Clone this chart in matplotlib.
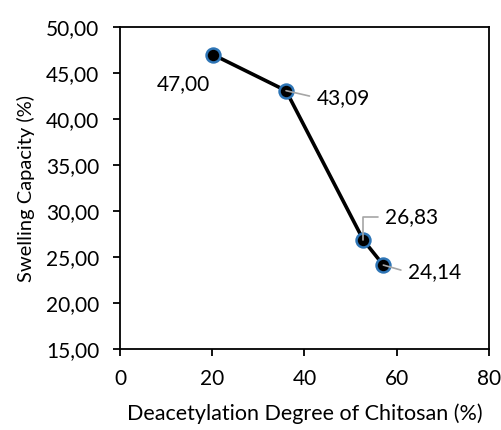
import matplotlib
matplotlib.use("Agg")
import matplotlib.pyplot as plt
from matplotlib.ticker import FuncFormatter

plt.rcParams['font.family'] = ['Lato', 'DejaVu Sans']

deacetylation = [20.2, 36.0, 52.8, 57.1]
swelling = [47.00, 43.09, 26.83, 24.14]
labels = ["47,00", "43,09", "26,83", "24,14"]
x_ticks = [0, 20, 40, 60, 80]
y_ticks = [15, 20, 25, 30, 35, 40, 45, 50]

fig = plt.figure(figsize=(5.02, 4.30), dpi=100)
ax = fig.add_axes([0.239, 0.188, 0.735, 0.749])

ax.plot(deacetylation, swelling, color='black', lw=2.6, marker='o', ms=10,
        markerfacecolor='black', markeredgecolor='#2E75B6', markeredgewidth=1.8, zorder=3)

ax.set_xlim(0, 80)
ax.set_ylim(15, 50)
ax.set_xticks(x_ticks)
ax.set_yticks(y_ticks)
ax.yaxis.set_major_formatter(FuncFormatter(lambda v, p: f"{v:.2f}".replace('.', ',')))
ax.tick_params(direction='out', length=5, width=1.3, labelsize=15, pad=10)
ax.tick_params(axis='x', pad=9)
for s in ax.spines.values():
    s.set_linewidth(1.3)

ax.set_xlabel("Deacetylation Degree of Chitosan (%)", fontsize=15.5, labelpad=11)
ax.set_ylabel("Swelling Capacity (%)", fontsize=14.5, labelpad=8)

offsets = [(-21.6, -20.9), (41, -5), (34.6, 16.6), (36.7, -5)]
for i, (x, y, lab) in enumerate(zip(deacetylation, swelling, labels)):
    off = offsets[i]
    if i == 0:
        ax.annotate(lab, (x, y), xytext=off, textcoords='offset points',
                    ha='center', va='center', fontsize=15)
    elif i == 2:
        ax.annotate(lab, (x, y), xytext=off, textcoords='offset points',
                    ha='center', va='center', fontsize=15,
                    arrowprops=dict(arrowstyle='-', color='#A6A6A6', lw=1.2,
                                    shrinkA=3, shrinkB=0, relpos=(0, 0.5),
                                    connectionstyle='angle,angleA=0,angleB=90,rad=0'))
    else:
        ax.annotate(lab, (x, y), xytext=off, textcoords='offset points',
                    ha='center', va='center', fontsize=15,
                    arrowprops=dict(arrowstyle='-', color='#A6A6A6', lw=1.2,
                                    shrinkA=3, shrinkB=0, relpos=(0, 0.5)))

fig.savefig("out.png", dpi=100)
